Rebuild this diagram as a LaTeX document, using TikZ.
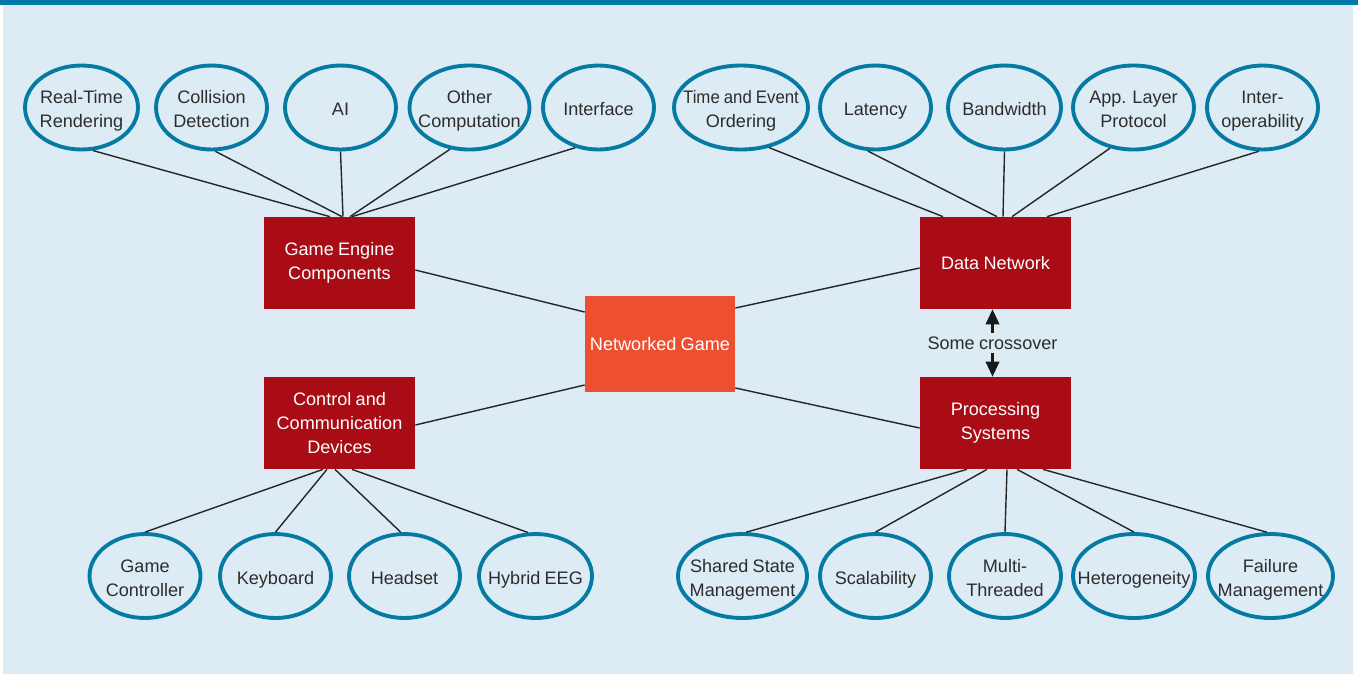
\documentclass[tikz,border=0pt]{standalone}
\usepackage{fontspec}
\setmainfont{Liberation Sans}[WordSpace=0.85]
\newfontfamily\narrowsans{Liberation Sans}[WordSpace=0.85, FakeStretch=0.93]
\usetikzlibrary{arrows.meta, calc, shapes.geometric}
\definecolor{panelblue}{RGB}{221,235,244}
\definecolor{barblue}{RGB}{0,121,166}
\definecolor{ringblue}{RGB}{5,122,163}
\definecolor{boxred}{RGB}{169,12,21}
\definecolor{coreorange}{RGB}{239,79,49}
\definecolor{inkgray}{RGB}{45,45,45}
% centred text of zero size, so the ellipse size comes from the style only
\newcommand{\btxt}[1]{\makebox[0pt]{\raisebox{-0.16cm}[0pt][0pt]{\begin{tabular}{@{}c@{}}#1\end{tabular}}}}

\begin{document}
\begin{tikzpicture}[x=0.02cm, y=-0.02cm,
    txt/.style={font=\fontsize{10.3}{13.7}\selectfont},
    box/.style={rectangle, fill=boxred, text=white, minimum width=3.02cm, minimum height=1.84cm, align=center, inner sep=0pt, txt},
    bubble/.style={ellipse, draw=ringblue, line width=2.2pt, fill=panelblue, text=inkgray, minimum width=2.22cm, minimum height=1.68cm, inner sep=0pt, txt},
    link/.style={draw=black!85, line width=0.8pt},
    cross/.style={line width=1.2pt, draw=black!90, {Triangle[length=3mm, width=2.7mm]}-{Triangle[length=3mm, width=2.7mm]}}]

    \useasboundingbox (0,0) rectangle (1358,674);
    \fill[white] (0,0) rectangle (1358,674);
    \fill[panelblue] (3,5) rectangle (1353,674);
    \fill[barblue] (0,0) rectangle (1358,5);

    % main blocks
    \node[box, fill=coreorange, minimum width=3cm, minimum height=1.92cm] (ng) at (660,344) {Networked Game};
    \node[box] (ge) at (339.5,263) {Game Engine\\Components};
    \node[box] (dn) at (995.5,263) {Data Network};
    \node[box] (ccd) at (339.5,423) {Control and\\Communication\\Devices};
    \node[box] (ps) at (995.5,423) {Processing\\Systems};

    % top row
    \node[bubble, minimum width=2.26cm] (rtr) at (81.5,107.5) {\btxt{Real-Time\\Rendering}};
    \node[bubble] (cd) at (211.5,107.5) {\btxt{Collision\\Detection}};
    \node[bubble] (ai) at (340.5,107.5) {\btxt{AI}};
    \node[bubble, minimum width=2.4cm] (oc) at (469.5,107.5) {\btxt{Other\\Computation}};
    \node[bubble] (intf) at (598.5,107.5) {\btxt{Interface}};
    \node[bubble, minimum width=2.68cm] (teo) at (741,107.5) {\btxt{{\narrowsans Time and Event}\\Ordering}};
    \node[bubble] (lat) at (875.5,107.5) {\btxt{Latency}};
    \node[bubble, minimum width=2.26cm] (bw) at (1004.5,107.5) {\btxt{Bandwidth}};
    \node[bubble, minimum width=2.42cm] (alp) at (1133.5,107.5) {\btxt{App. Layer\\Protocol}};
    \node[bubble] (iop) at (1262.5,107.5) {\btxt{Inter-\\operability}};

    % bottom row
    \node[bubble] (gc) at (145,576) {\btxt{Game\\Controller}};
    \node[bubble] (kb) at (275.5,576) {\btxt{Keyboard}};
    \node[bubble] (hs) at (404.5,576) {\btxt{Headset}};
    \node[bubble, minimum width=2.26cm] (eeg) at (535.5,576) {\btxt{Hybrid EEG}};
    \node[bubble, minimum width=2.58cm] (ssm) at (742.5,576) {\btxt{Shared State\\Management}};
    \node[bubble] (scal) at (875.5,576) {\btxt{Scalability}};
    \node[bubble, minimum width=2.24cm] (mt) at (1005,576) {\btxt{Multi-\\Threaded}};
    \node[bubble, minimum width=2.44cm] (het) at (1134,576) {\btxt{Heterogeneity}};
    \node[bubble, minimum width=2.5cm] (fm) at (1270.5,576) {\btxt{Failure\\Management}};

    % spokes
    \draw[link] (rtr.285) -- ($(ge.north)+(-9.5,0)$);
    \draw[link] (cd.275) -- ($(ge.north)+(2.5,0)$);
    \draw[link] (ai.south) -- ($(ge.north)+(3.5,0)$);
    \draw[link] (oc.245) -- ($(ge.north)+(10.5,0)$);
    \draw[link] (intf.240) -- ($(ge.north)+(12.5,0)$);

    \draw[link] (teo.305) -- ($(dn.north)+(-52.5,0)$);
    \draw[link] (lat.260) -- ($(dn.north)+(1.5,0)$);
    \draw[link] (bw.south) -- ($(dn.north)+(7.5,0)$);
    \draw[link] (alp.240) -- ($(dn.north)+(16.5,0)$);
    \draw[link] (iop.265) -- ($(dn.north)+(51.5,0)$);

    \draw[link] (gc.north) -- ($(ccd.south)+(-16.5,0)$);
    \draw[link] (kb.north) -- ($(ccd.south)+(-12.5,0)$);
    \draw[link] (hs.95) -- ($(ccd.south)+(-4.5,0)$);
    \draw[link] (eeg.100) -- ($(ccd.south)+(12.5,0)$);

    \draw[link] (ssm.85) -- ($(ps.south)+(-28.5,0)$);
    \draw[link] (scal.north) -- ($(ps.south)+(-8.5,0)$);
    \draw[link] (mt.north) -- ($(ps.south)+(11.5,0)$);
    \draw[link] (het.north) -- ($(ps.south)+(21.5,0)$);
    \draw[link] (fm.95) -- ($(ps.south)+(47.5,0)$);

    % hub
    \draw[link] ($(ge.east)+(0,7)$) -- ($(ng.west)+(0,-32)$);
    \draw[link] ($(ccd.east)+(0,2)$) -- ($(ng.west)+(0,41)$);
    \draw[link] ($(dn.west)+(0,5)$) -- ($(ng.east)+(0,-36)$);
    \draw[link] ($(ps.west)+(0,5)$) -- ($(ng.east)+(0,44)$);

    \draw[cross] ($(dn.south)+(-3,0)$) -- node[fill=panelblue, inner sep=2.3pt, text=inkgray, txt] (sc) {Some crossover} ($(ps.north)+(-3,0)$);
\end{tikzpicture}
\end{document}
